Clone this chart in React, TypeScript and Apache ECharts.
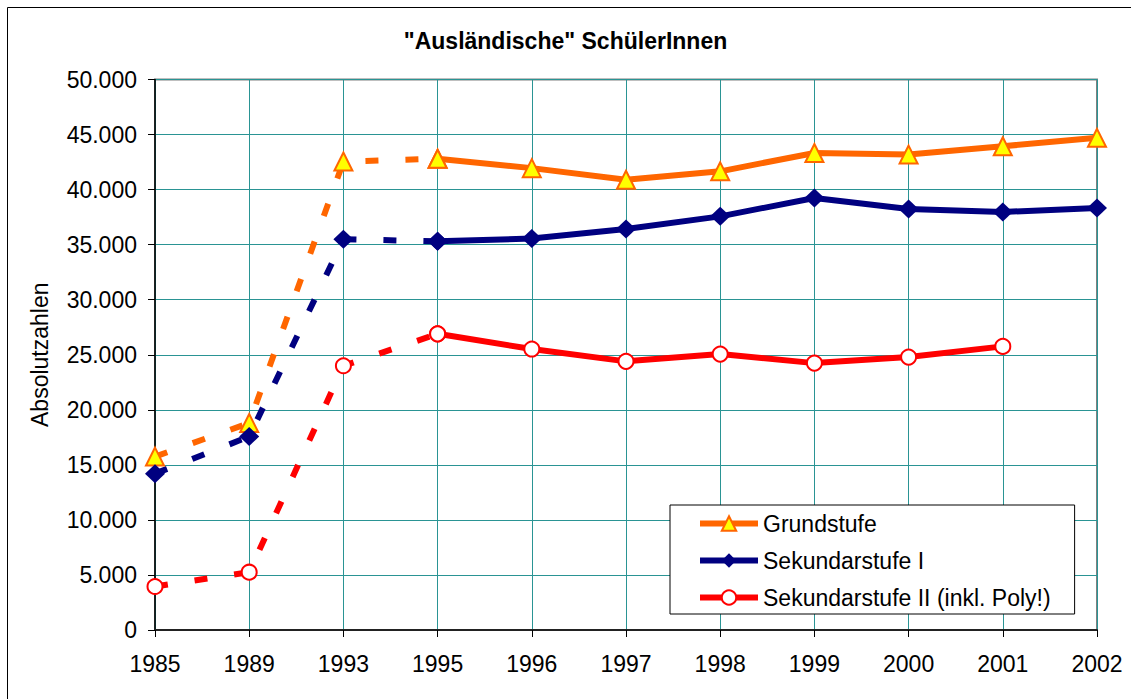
import React, { useEffect, useRef } from 'react';
import * as echarts from 'echarts';

const chartTitle = '"Ausländische" SchülerInnen';
const yAxisName = 'Absolutzahlen';
const years = ['1985', '1989', '1993', '1995', '1996', '1997', '1998', '1999', '2000', '2001', '2002'];
const seriesNames = ['Grundstufe', 'Sekundarstufe I', 'Sekundarstufe II (inkl. Poly!)'];
const grundstufe = [15750, 18800, 42550, 42800, 41950, 40900, 41660, 43330, 43180, 43940, 44700];
const sekundarstufe1 = [14200, 17570, 35500, 35300, 35550, 36430, 37570, 39240, 38240, 37970, 38330];
const sekundarstufe2 = [3950, 5250, 24000, 26900, 25520, 24400, 25060, 24240, 24790, 25760, null];
// index of the first year drawn with a solid line; earlier years are joined by dashes
const solidFrom = 3;

const FONT = '"Liberation Sans", Arial, sans-serif';
const FS = 23;

function fmt(v: number): string {
  return String(v).replace(/\B(?=(\d{3})+(?!\d))/g, '.');
}

function makeSeries(
  name: string,
  values: (number | null)[],
  color: string,
  symbol: string,
  symbolSize: number | number[],
  itemStyle: any
) {
  const solid = values.map((v, i) => (i >= solidFrom ? v : null));
  const dashed = values.map((v, i) => (i <= solidFrom ? v : null));
  return [
    {
      name,
      type: 'line',
      data: solid,
      symbol,
      symbolSize,
      showAllSymbol: true,
      connectNulls: false,
      lineStyle: { color, width: 6 },
      itemStyle,
      z: 3,
    },
    {
      name,
      type: 'line',
      data: dashed,
      symbol,
      symbolSize,
      showAllSymbol: true,
      connectNulls: false,
      lineStyle: { color, width: 6, type: [13, 27] },
      itemStyle,
      z: 2,
    },
  ];
}

export default function App() {
  const ref = useRef<HTMLDivElement>(null);
  useEffect(() => {
    const chart = echarts.init(ref.current!, null, { renderer: 'svg' });
    const series = [
      ...makeSeries(seriesNames[0], grundstufe, '#FF6600', 'triangle', [18, 18], {
        color: '#FFFF00',
        borderColor: '#FF6600',
        borderWidth: 2,
      }),
      ...makeSeries(seriesNames[1], sekundarstufe1, '#000080', 'diamond', [20, 19], {
        color: '#000080',
        borderColor: '#000080',
        borderWidth: 0,
      }),
      ...makeSeries(seriesNames[2], sekundarstufe2, '#FF0000', 'circle', 15, {
        color: '#FFFFFF',
        borderColor: '#FF0000',
        borderWidth: 2,
      }),
    ];
    chart.setOption({
      animation: false,
      backgroundColor: '#ffffff',
      textStyle: { fontFamily: FONT },
      title: {
        text: chartTitle,
        left: 'center',
        top: 24,
        textStyle: { fontFamily: FONT, fontSize: FS, fontWeight: 'bold', color: '#000' },
      },
      graphic: [
        {
          type: 'rect',
          shape: { x: 7.5, y: 7.5, width: 1300, height: 900 },
          style: { fill: 'none', stroke: '#000', lineWidth: 1 },
          silent: true,
          z: -10,
        },
      ],
      grid: {
        left: 155,
        right: 34,
        top: 79.5,
        bottom: 69,
        show: true,
        borderColor: '#808080',
        borderWidth: 2,
        backgroundColor: 'transparent',
      },
      legend: {
        data: seriesNames,
        orient: 'vertical',
        left: 670,
        top: 505,
        backgroundColor: '#ffffff',
        borderColor: '#000',
        borderWidth: 1,
        borderRadius: 0,
        padding: [7, 24, 5, 27],
        itemWidth: 58,
        itemHeight: 18,
        itemGap: 14,
        lineStyle: { width: 6 },
        textStyle: { fontFamily: FONT, fontSize: FS, color: '#000', lineHeight: 23 },
        z: 10,
      },
      xAxis: {
        type: 'category',
        data: years,
        boundaryGap: false,
        axisLine: { show: true, lineStyle: { color: '#222', width: 2 } },
        axisTick: { show: true, length: 7, lineStyle: { color: '#000' } },
        axisLabel: { fontFamily: FONT, fontSize: FS, color: '#000', margin: 22 },
        splitLine: { show: true, lineStyle: { color: '#2a9494', width: 1 } },
      },
      yAxis: {
        type: 'value',
        min: 0,
        max: 50000,
        interval: 5000,
        name: yAxisName,
        nameLocation: 'middle',
        nameGap: 104,
        nameTextStyle: { fontFamily: FONT, fontSize: FS, color: '#000' },
        axisLine: { show: true, lineStyle: { color: '#000', width: 1.5 } },
        axisTick: { show: true, length: 7, lineStyle: { color: '#000' } },
        axisLabel: {
          fontFamily: FONT,
          fontSize: FS,
          color: '#000',
          margin: 18,
          formatter: (v: number) => fmt(v),
        },
        splitLine: { show: true, lineStyle: { color: '#2a9494', width: 1 } },
      },
      series,
    });
    return () => chart.dispose();
  }, []);
  return (
    <div
      ref={ref}
      style={{ position: 'fixed', left: 0, top: 0, width: 1131, height: 699, background: '#fff' }}
    />
  );
}
